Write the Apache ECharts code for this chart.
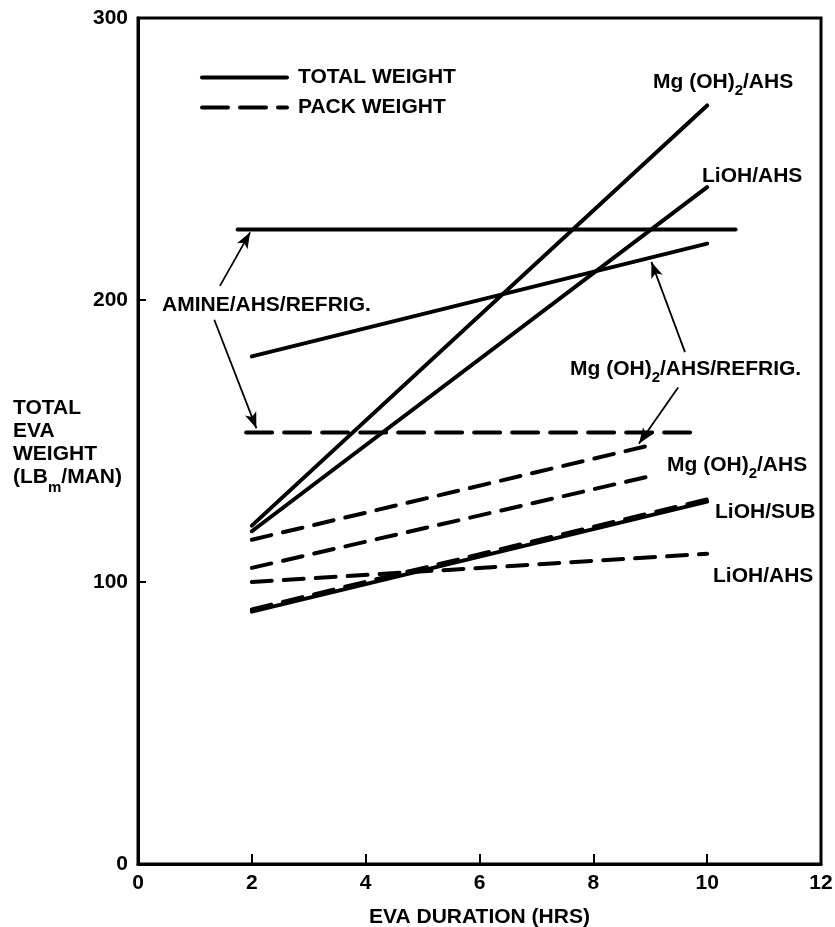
<!DOCTYPE html>
<html>
<head>
<meta charset="utf-8">
<script src="https://cdn.jsdelivr.net/npm/echarts@6/dist/echarts.min.js"></script>
<style>
html, body { margin: 0; padding: 0; background: #fff; }
#chart { width: 835px; height: 927px; }
</style>
</head>
<body>
<div id="chart"></div>
<script>
// axis ticks
const xTicks = [0, 2, 4, 6, 8, 10, 12]
const yTicks = [0, 100, 200, 300]

// total weight (solid lines), [hrs, lb]
const amineTotal = [[1.75, 225], [10.5, 225]]
const mgRefrigTotal = [[2, 180], [10, 220]]
const mgAhsTotal = [[2, 120], [10, 269]]
const liohAhsTotal = [[2, 118], [10, 240]]
const liohSubTotal = [[2, 89.5], [10, 128.5]]

// pack weight (dashed lines)
const aminePack = [[1.9, 153], [9.7, 153]]
const mgRefrigPack = [[2, 115], [9, 148.5]]
const mgAhsPack = [[2, 105], [9.1, 138]]
const liohSubPack = [[2, 90.3], [10, 129.3]]
const liohAhsPack = [[2, 100], [10, 110]]

// leader arrows, [from, to]
const arrows = [
  [[1.44, 205], [1.97, 224]],
  [[1.34, 193], [2.08, 154.5]],
  [[9.61, 181.5], [9.02, 213.5]],
  [[9.49, 169], [8.8, 149]]
]

const FONT = '"Liberation Sans", Arial, sans-serif'
const INK = "#000"

const chart = echarts.init(document.getElementById("chart"))

const solid = (data) => ({
  name: "TOTAL WEIGHT",
  type: "line",
  data: data,
  symbol: "none",
  silent: true,
  z: 3,
  itemStyle: { color: INK },
  lineStyle: { color: INK, width: 4, cap: "round" }
})
const dashed = (data, dash) => ({
  name: "PACK WEIGHT",
  type: "line",
  data: data,
  symbol: "none",
  silent: true,
  z: 2,
  itemStyle: { color: INK },
  lineStyle: { color: INK, width: 4, type: dash || [20, 12], cap: "round" }
})

const sub = {
  a: { fontSize: 21, fontWeight: "bold", fontFamily: FONT, color: INK, verticalAlign: "top", lineHeight: 22 },
  s: { fontSize: 15, fontWeight: "bold", fontFamily: FONT, color: INK, verticalAlign: "bottom", lineHeight: 27 }
}
const label = (text, x, y) => ({
  type: "text",
  x: x,
  y: y,
  silent: true,
  style: { text: text, rich: sub, verticalAlign: "middle", fill: INK }
})

const amineSeries = dashed(aminePack, [26, 12])
amineSeries.markLine = {
  silent: true,
  animation: false,
  symbol: ["none", "arrow"],
  symbolSize: [9, 16],
  label: { show: false },
  lineStyle: { color: INK, width: 1.8, type: "solid" },
  data: arrows.map((a) => [{ coord: a[0] }, { coord: a[1] }])
}

let option = {
  animation: false,
  backgroundColor: "#fff",
  grid: {
    left: 138,
    right: 14,
    top: 18,
    bottom: 63,
    outerBoundsMode: "none",
    show: true,
    borderColor: INK,
    borderWidth: 3
  },
  legend: {
    data: ["TOTAL WEIGHT", "PACK WEIGHT"],
    orient: "vertical",
    left: 195,
    top: 62,
    itemWidth: 85,
    itemHeight: 14,
    itemGap: 9,
    selectedMode: false,
    itemStyle: { opacity: 0 },
    lineStyle: { color: INK, width: 4, cap: "round" },
    textStyle: { fontSize: 21, fontWeight: "bold", fontFamily: FONT, color: INK, padding: [0, 0, 0, 6] }
  },
  xAxis: {
    type: "value",
    min: xTicks[0],
    max: xTicks[xTicks.length - 1],
    interval: 2,
    name: "EVA DURATION (HRS)",
    nameLocation: "middle",
    nameGap: 43,
    nameTextStyle: { fontSize: 21, fontWeight: "bold", fontFamily: FONT, color: INK },
    axisLine: { lineStyle: { color: INK, width: 3 } },
    axisTick: { inside: true, length: 10, lineStyle: { color: INK, width: 2 } },
    axisLabel: { fontSize: 21, fontWeight: "bold", fontFamily: FONT, color: INK, margin: 9 },
    splitLine: { show: false }
  },
  yAxis: {
    type: "value",
    min: yTicks[0],
    max: yTicks[yTicks.length - 1],
    interval: 100,
    axisLine: { show: true, lineStyle: { color: INK, width: 3 } },
    axisTick: { show: true, inside: true, length: 8, lineStyle: { color: INK, width: 2 } },
    axisLabel: { fontSize: 21, fontWeight: "bold", fontFamily: FONT, color: INK, margin: 10 },
    splitLine: { show: false }
  },
  graphic: [
    {
      type: "text",
      left: 13,
      top: 398,
      silent: true,
      style: { text: "{a|TOTAL}\n{a|EVA}\n{a|WEIGHT}\n{a|(LB}{s|m}{a|/MAN)}", rich: {
        a: { fontSize: 21, fontWeight: "bold", fontFamily: FONT, color: INK, verticalAlign: "top", lineHeight: 23 },
        s: { fontSize: 15, fontWeight: "bold", fontFamily: FONT, color: INK, verticalAlign: "bottom", lineHeight: 28 }
      } }
    },
    label("{a|Mg (OH)}{s|2}{a|/AHS}", 653, 85),
    label("{a|LiOH/AHS}", 702, 177),
    label("{a|AMINE/AHS/REFRIG.}", 162, 306),
    label("{a|Mg (OH)}{s|2}{a|/AHS/REFRIG.}", 570, 372),
    label("{a|Mg (OH)}{s|2}{a|/AHS}", 667, 468),
    label("{a|LiOH/SUB}", 715, 513),
    label("{a|LiOH/AHS}", 713, 577)
  ],
  series: [
    amineSeries,
    dashed(mgRefrigPack),
    dashed(mgAhsPack),
    dashed(liohSubPack),
    dashed(liohAhsPack),
    solid(amineTotal),
    solid(mgRefrigTotal),
    solid(mgAhsTotal),
    solid(liohAhsTotal),
    solid(liohSubTotal)
  ]
}

chart.setOption(option)
window.addEventListener("resize", () => {
  chart.resize()
})
</script>
</body>
</html>
